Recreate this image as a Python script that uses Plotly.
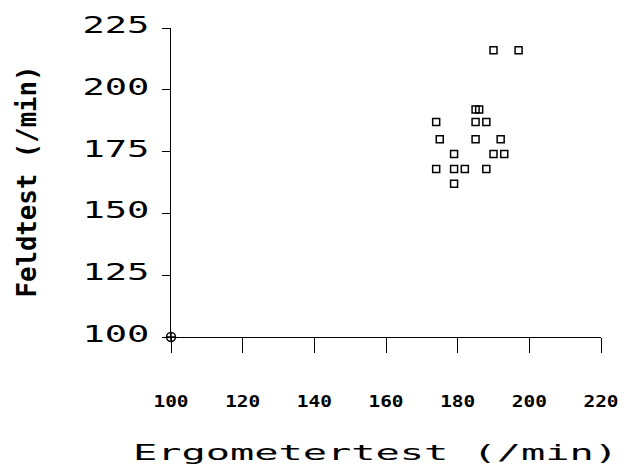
import plotly.graph_objects as go

# Heart rate measured on the ergometer vs. in the field test (beats per minute)
ergometer = [190, 197, 185, 186, 174, 185, 188, 175, 185, 192, 179, 190, 193, 174, 179, 182, 188, 179]
feldtest = [216, 216, 192, 192, 187, 187, 187, 180, 180, 180, 174, 174, 174, 168, 168, 168, 168, 162]

# Axis origin mark
origin_x = [100]
origin_y = [100]

x_ticks = [100, 120, 140, 160, 180, 200, 220]
y_ticks = [100, 125, 150, 175, 200, 225]

x_title = "Ergometertest (/min)"
y_title = "Feldtest (/min)"

fig = go.Figure()
fig.add_trace(go.Scatter(
    x=ergometer, y=feldtest, mode="markers",
    marker=dict(symbol="square-open", size=7, color="black", line=dict(width=1.5, color="black")),
    showlegend=False, hoverinfo="x+y",
))
fig.add_trace(go.Scatter(
    x=origin_x, y=origin_y, mode="markers",
    marker=dict(symbol="circle-cross-open", size=9, color="black", line=dict(width=1.5, color="black")),
    showlegend=False, cliponaxis=False, hoverinfo="skip",
))

axis_common = dict(
    showline=True, linecolor="black", linewidth=1,
    ticks="outside", tickcolor="black", tickwidth=1,
    showgrid=False, zeroline=False, mirror=False,
)

fig.update_layout(
    width=627, height=468,
    margin=dict(l=171, r=20, t=27, b=131, pad=0),
    paper_bgcolor="white", plot_bgcolor="white",
    xaxis=dict(
        **axis_common,
        range=[100, 220], tickmode="array", tickvals=x_ticks,
        ticktext=[str(v) for v in x_ticks],
        ticklen=15, ticklabelstandoff=35,
        tickfont=dict(family="DejaVu Sans Mono", size=16, color="black", weight="bold"),
    ),
    yaxis=dict(
        **axis_common,
        range=[100, 225], tickmode="array", tickvals=y_ticks,
        ticktext=[str(v) for v in y_ticks],
        ticklen=8, ticklabelstandoff=8, ticklabelshift=-3,
        tickfont=dict(family="DejaVu Sans Mono", size=23, color="black"),
    ),
    annotations=[
        dict(text=x_title, xref="paper", yref="paper", x=0.4748, y=-0.377,
             xanchor="center", yanchor="middle", showarrow=False,
             font=dict(family="DejaVu Sans Mono", size=21, color="black")),
        dict(text=y_title, xref="paper", yref="paper", x=-0.335, y=0.505,
             xanchor="center", yanchor="middle", showarrow=False, textangle=-90,
             font=dict(family="DejaVu Sans Mono", size=26, color="black", weight="bold")),
    ],
)

# Widen the glyphs to the wide, blocky lettering of the plot
post = """
var gd = document.getElementById('{plot_id}');
function stretch(sel, len) {
  gd.querySelectorAll(sel).forEach(function (t) {
    t.setAttribute('lengthAdjust', 'spacingAndGlyphs');
    t.setAttribute('textLength', len);
  });
}
stretch('.ytick text', 67);
stretch('.xtick text', 35);
stretch('g.annotation[data-index="0"] text', 485);
stretch('g.annotation[data-index="1"] text', 232);
"""

fig.write_html("out.html", post_script=post)
